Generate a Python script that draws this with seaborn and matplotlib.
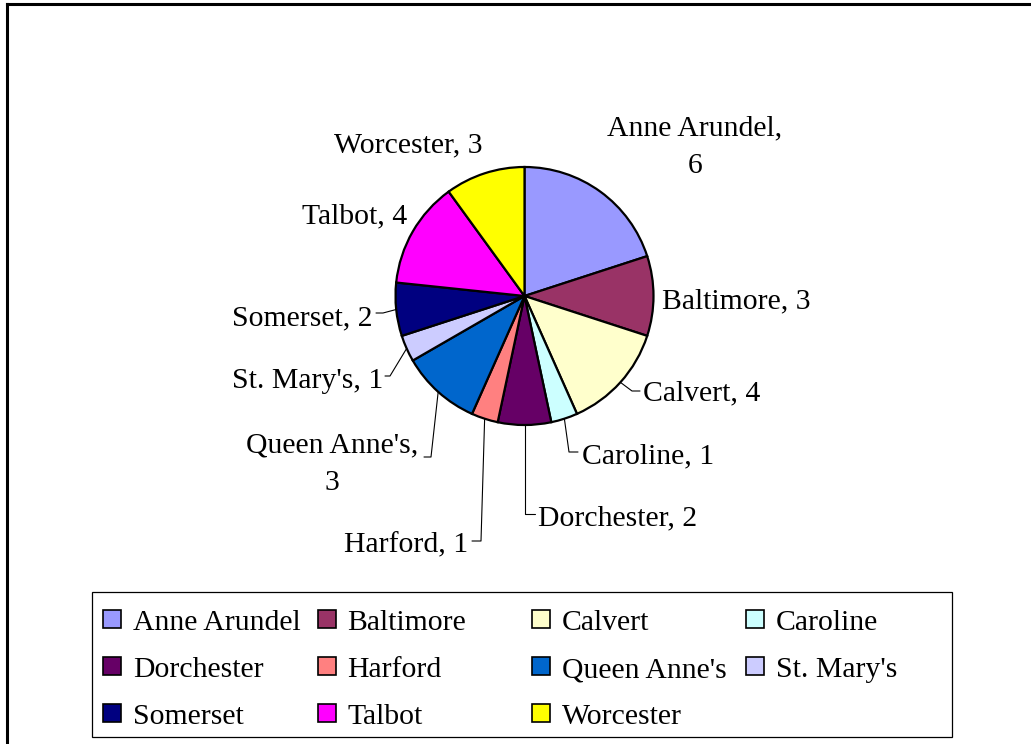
import matplotlib
matplotlib.use("Agg")
import matplotlib.pyplot as plt
from matplotlib.patches import Rectangle
import numpy as np
import seaborn as sns

# ---- data ----
counties = ["Anne Arundel", "Baltimore", "Calvert", "Caroline", "Dorchester",
            "Harford", "Queen Anne's", "St. Mary's", "Somerset", "Talbot", "Worcester"]
counts = [6, 3, 4, 1, 2, 1, 3, 1, 2, 4, 3]
slice_colors = ["#9999FF", "#993366", "#FFFFCC", "#CCFFFF", "#660066", "#FF8080",
                "#0066CC", "#CCCCFF", "#000080", "#FF00FF", "#FFFF00"]

# ---- style ----
sns.set_theme(style="white")
plt.rcParams['font.family'] = ['Liberation Serif', 'DejaVu Serif']
FS = 21.4
TY = 3  # vertical text nudge (px)

W, H = 1031, 744
fig = plt.figure(figsize=(W / 100, H / 100), dpi=100)
fig.patch.set_facecolor("white")
ax = fig.add_axes([0, 0, 1, 1])


def P(x, y):
    """pixel (top-left origin) -> data coords"""
    return (x, H - y)


CX, CY, R = 524.5, 296, 129
palette = sns.color_palette(slice_colors)
wedges, _ = ax.pie(counts, colors=palette, startangle=90, counterclock=False,
                   center=P(CX, CY), radius=R, frame=True,
                   wedgeprops=dict(edgecolor="black", linewidth=1.6))
ax.set_xlim(0, W)
ax.set_ylim(0, H)
ax.set_aspect("equal")
ax.axis("off")

# ---- data labels (layout) ----
label_pos = [  # (x px, y px, ha, two_line)
    (695, 125, "center", True),
    (662, 298, "left", False),
    (643, 390, "left", False),
    (582, 453, "left", False),
    (538, 515, "left", False),
    (468, 542, "right", False),
    (332, 442, "center", True),
    (383, 378, "right", False),
    (373, 315, "right", False),
    (407, 213, "right", False),
    (483, 142, "right", False),
]
LINE_GAP = 38
for name, val, (x, y, ha, two) in zip(counties, counts, label_pos):
    if two:
        ax.text(*P(x, y + TY), f"{name},", ha="center", va="center", fontsize=FS, color="black")
        ax.text(*P(x, y + LINE_GAP + TY), f"{val}", ha="center", va="center", fontsize=FS, color="black")
    else:
        ax.text(*P(x, y + TY), f"{name}, {val}", ha=ha, va="center", fontsize=FS, color="black")

# ---- leader lines (layout) ----
leaders = {
    2: ((632, 391), (640, 391)),
    3: ((569, 452), (578, 452)),
    4: ((524.5, 514), (535, 514)),
    5: ((481, 541), (472, 541)),
    6: ((431, 457), (424, 457)),
    7: ((390, 376), (385, 376)),
    8: ((383, 313), (376, 313)),
}
for i, (elbow, end) in leaders.items():
    w = wedges[i]
    mid = np.deg2rad((w.theta1 + w.theta2) / 2)
    sx = w.center[0] + w.r * np.cos(mid)
    sy = w.center[1] + w.r * np.sin(mid)
    ex, ey = P(*elbow)
    tx, ty = P(*end)
    ax.plot([sx, ex, tx], [sy, ey, ty], color="black", lw=0.8)

# ---- outer frame (only top/left visible) ----
ax.plot([7, 7], [-5, H - 4], color="black", lw=2.2, solid_capstyle="projecting")
ax.plot([7, W + 5], [H - 4, H - 4], color="black", lw=2.2, solid_capstyle="projecting")

# ---- legend (manual, Excel-style equal columns) ----
lx0, ly0, lx1, ly1 = 92, 592, 952, 737
ax.add_patch(Rectangle(P(lx0, ly1), lx1 - lx0, ly1 - ly0, facecolor="white",
                       edgecolor="black", lw=0.9, zorder=3))
col_x = [103, 317.5, 532, 746]
row_y = [620, 667, 714]
ICON = 18
for k, (name, c) in enumerate(zip(counties, palette)):
    r, cidx = divmod(k, 4)
    x, y = col_x[cidx], row_y[r]
    ax.add_patch(Rectangle(P(x, y + ICON / 2 - 1), ICON, ICON, facecolor=c,
                           edgecolor="black", lw=1.2, zorder=4))
    ax.text(*P(x + 30, y + TY), name, ha="left", va="center", fontsize=FS,
            color="black", zorder=5)

fig.savefig("out.png", dpi=100, facecolor="white")
